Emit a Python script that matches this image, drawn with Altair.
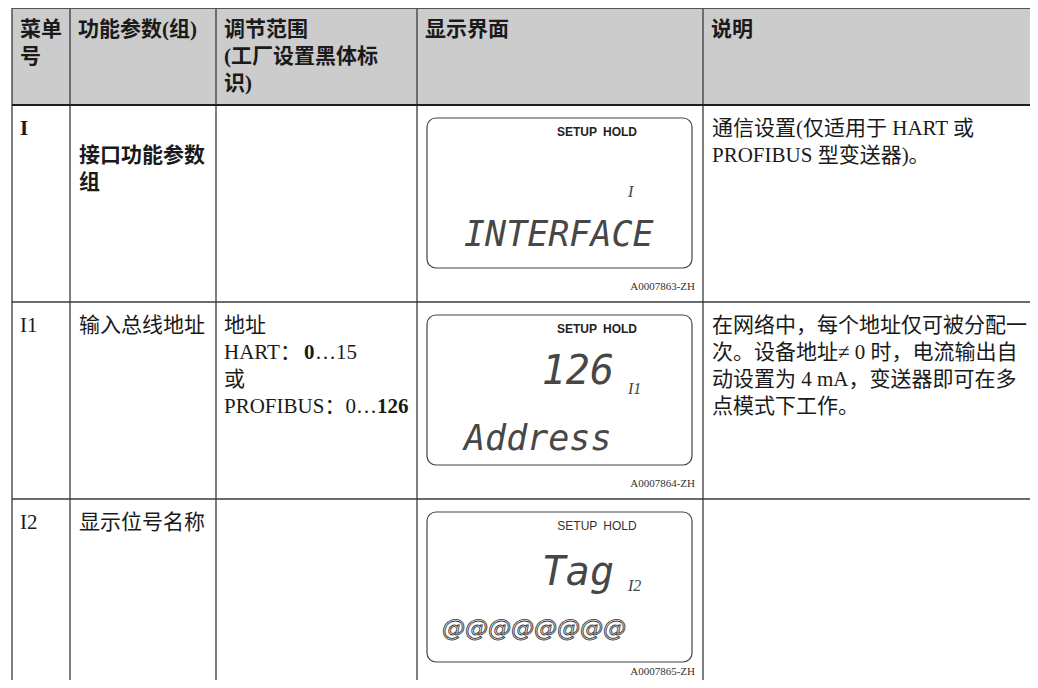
import altair as alt
import pandas as pd

# ---------------- table content ----------------
col_headers = [["菜单", "号"], ["功能参数(组)"], ["调节范围", "(工厂设置黑体标", "识)"], ["显示界面"], ["说明"]]
menu_ids = ["I", "I1", "I2"]
menu_bold = [True, False, False]
param_names = [["", "接口功能参数", "组"], ["输入总线地址"], ["显示位号名称"]]
param_bold = [True, False, False]
range_lines = [
    [],
    [[("地址", False)],
     [("HART：", False), ("0", True), ("…15", False)],
     [("或", False)],
     [("PROFIBUS：0…", False), ("126", True)]],
    [],
]
descriptions = [
    ["通信设置(仅适用于 HART 或", "PROFIBUS 型变送器)。"],
    ["在网络中，每个地址仅可被分配一", "次。设备地址≠ 0 时，电流输出自",
     "动设置为 4 mA，变送器即可在多", "点模式下工作。"],
    [],
]
lcd_status = ["SETUP\u2002HOLD", "SETUP\u2002HOLD", "SETUP\u2002HOLD"]
lcd_status_bold = [True, True, False]
lcd_upper = ["", "126", "Tag"]
lcd_index = ["I", "I1", "I2"]
lcd_lower = ["INTERFACE", "Address", "@@@@@@@@"]
figure_ids = ["A0007863-ZH", "A0007864-ZH", "A0007865-ZH"]

# ---------------- layout (page pixels) ----------------
COL_X = [12, 70, 216, 417, 703, 1038]
ROW_Y = [8, 105, 302, 499, 688]
PAD = 8
HEAD_FIRST = 21.5
BODY_FIRST = 24
LINE_H = 27
FS = 21
SEG_OFFSETS = [[0], [0, 80, 91], [0], [0, 153]]
PANEL_X = (427, 692)
PANEL_TOP = 13
PANEL_H = 150
STATUS_X, STATUS_DY = 597, 14
UPPER_X, UPPER_DY = 614, [57, 57, 61]
INDEX_X, INDEX_DY = 628, 74
LOWER_X, LOWER_DY = 464, [117, 124, 117]
FIG_X, FIG_DY = 695, [182, 182, 173]

SERIF = "Liberation Serif, Noto Sans CJK SC"
INK = "#1a1a1a"
LCD = "#474747"

W, H = 1022, 672
xs = alt.Scale(domain=[8, 8 + W], nice=False, zero=False)
ys = alt.Scale(domain=[8, 8 + H], nice=False, zero=False, reverse=True)


def X(f):
    return alt.X(f, type="quantitative", scale=xs, axis=None)


def Y(f):
    return alt.Y(f, type="quantitative", scale=ys, axis=None)


def text_layer(rows, **mark):
    df = pd.DataFrame(rows, columns=["x", "y", "t"])
    base = dict(baseline="middle", align="left")
    base.update(mark)
    return alt.Chart(df).mark_text(**base).encode(x=X("x"), y=Y("y"), text="t:N")


layers = []

# header background
hdr = pd.DataFrame([{"x": COL_X[0], "x2": COL_X[-1], "y": ROW_Y[0], "y2": ROW_Y[1]}])
layers.append(alt.Chart(hdr).mark_rect(color="#cccccc").encode(
    x=X("x"), x2=alt.X2("x2"), y=Y("y"), y2=alt.Y2("y2")))

# lcd panels
panels = pd.DataFrame([
    {"x": PANEL_X[0], "x2": PANEL_X[1], "y": ROW_Y[i + 1] + PANEL_TOP,
     "y2": ROW_Y[i + 1] + PANEL_TOP + PANEL_H}
    for i in range(len(menu_ids))
])
layers.append(alt.Chart(panels).mark_rect(fill="white", stroke="#444444", strokeWidth=1.2,
                                          cornerRadius=9).encode(
    x=X("x"), x2=alt.X2("x2"), y=Y("y"), y2=alt.Y2("y2")))

# grid rules
rules = []
for cx in COL_X[:-1]:
    rules.append({"x": cx, "x2": cx, "y": ROW_Y[0], "y2": ROW_Y[-1], "w": 1.3, "c": "#3a3a3a"})
rules.append({"x": COL_X[0], "x2": COL_X[-1], "y": ROW_Y[0], "y2": ROW_Y[0], "w": 2.2, "c": "#555555"})
rules.append({"x": COL_X[0], "x2": COL_X[-1], "y": ROW_Y[1], "y2": ROW_Y[1], "w": 2.0, "c": "#1e1e1e"})
for ry in ROW_Y[2:-1]:
    rules.append({"x": COL_X[0], "x2": COL_X[-1], "y": ry, "y2": ry, "w": 1.3, "c": "#3a3a3a"})
layers.append(alt.Chart(pd.DataFrame(rules)).mark_rule().encode(
    x=X("x"), x2=alt.X2("x2"), y=Y("y"), y2=alt.Y2("y2"),
    size=alt.Size("w:Q", scale=None, legend=None),
    color=alt.Color("c:N", scale=None, legend=None)))

# header texts
hrows = []
for ci, lines in enumerate(col_headers):
    for li, t in enumerate(lines):
        hrows.append((COL_X[ci] + PAD, ROW_Y[0] + HEAD_FIRST + li * LINE_H, t))
layers.append(text_layer(hrows, font=SERIF, fontSize=FS, fontWeight="bold", color=INK))

# body texts
bold_rows, plain_rows = [], []
for ri in range(len(menu_ids)):
    top = ROW_Y[ri + 1] + BODY_FIRST
    (bold_rows if menu_bold[ri] else plain_rows).append((COL_X[0] + PAD, top, menu_ids[ri]))
    for li, t in enumerate(param_names[ri]):
        if t:
            (bold_rows if param_bold[ri] else plain_rows).append((COL_X[1] + PAD + 1, top + li * LINE_H, t))
    for li, segs in enumerate(range_lines[ri]):
        for si, (t, b) in enumerate(segs):
            (bold_rows if b else plain_rows).append(
                (COL_X[2] + PAD + SEG_OFFSETS[li][si], top + li * LINE_H, t))
    for li, t in enumerate(descriptions[ri]):
        plain_rows.append((COL_X[4] + PAD + 1, top + li * LINE_H, t))
layers.append(text_layer(plain_rows, font=SERIF, fontSize=FS, color=INK))
layers.append(text_layer(bold_rows, font=SERIF, fontSize=FS, fontWeight="bold", color=INK))

# lcd contents
st_b, st_n, up, idx, low_txt, low_at, figs = [], [], [], [], [], [], []
for i in range(len(menu_ids)):
    ptop = ROW_Y[i + 1] + PANEL_TOP
    (st_b if lcd_status_bold[i] else st_n).append((STATUS_X, ptop + STATUS_DY, lcd_status[i]))
    if lcd_upper[i]:
        up.append((UPPER_X, ptop + UPPER_DY[i], lcd_upper[i]))
    idx.append((INDEX_X, ptop + INDEX_DY, lcd_index[i]))
    if lcd_lower[i].startswith("@"):
        low_at.append((LOWER_X - 22, ptop + LOWER_DY[i], lcd_lower[i]))
    else:
        low_txt.append((LOWER_X, ptop + LOWER_DY[i], lcd_lower[i]))
    figs.append((FIG_X, ROW_Y[i + 1] + FIG_DY[i], figure_ids[i]))

layers.append(text_layer(st_b, align="center", font="Liberation Sans", fontSize=12,
                         fontWeight="bold", color="#222222"))
layers.append(text_layer(st_n, align="center", font="Liberation Sans", fontSize=12, color="#333333"))
layers.append(text_layer(up, align="right", font="DejaVu Sans Mono", fontSize=40,
                         fontStyle="italic", color=LCD))
layers.append(text_layer(idx, font="Liberation Serif", fontSize=16, fontStyle="italic", color="#444444"))
layers.append(text_layer(low_txt, font="DejaVu Sans Mono", fontSize=35,
                         fontStyle="italic", color=LCD))
layers.append(text_layer(low_at, font="DejaVu Sans", fontSize=23, fontStyle="italic",
                         color="#ffffff", stroke="#3a3a3a", strokeWidth=0.9))
layers.append(text_layer(figs, align="right", font="Liberation Serif", fontSize=11, color="#333333"))

chart = alt.layer(*layers).properties(
    width=W, height=H, padding=0,
    autosize=alt.AutoSizeParams(type="none"),
).configure_view(stroke=None)

chart.save("out.html", embed_options={"renderer": "svg", "actions": False})
